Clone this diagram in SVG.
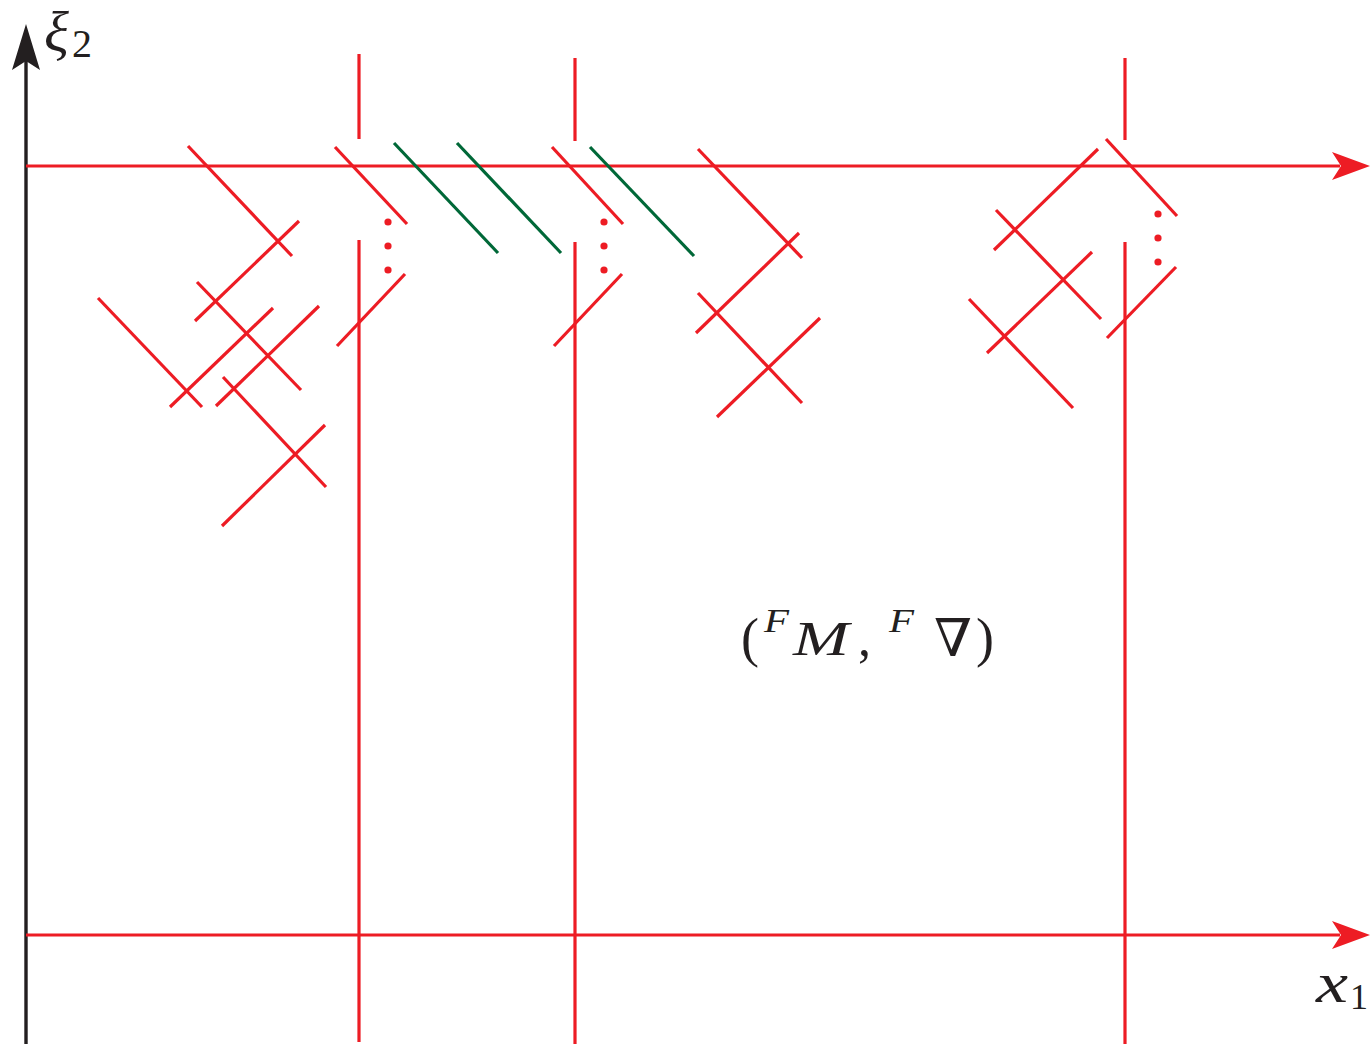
<svg xmlns="http://www.w3.org/2000/svg" width="1370" height="1044" viewBox="0 0 1370 1044">
<style>
.r{stroke:#ED1C24;stroke-width:3.2;fill:none}
.g{stroke:#006838;stroke-width:3.2;fill:none}
.k{stroke:#231F20;stroke-width:3.4;fill:none}
.d{fill:#ED1C24}
</style>
<defs>
<marker id="ar" viewBox="-12 -16 46 32" refX="0" refY="0" markerWidth="46" markerHeight="32" markerUnits="userSpaceOnUse" orient="auto">
<path d="M30,0 L-8,-14 L1,0 L-8,14 Z" fill="#ED1C24"/>
</marker>
<marker id="ak" viewBox="-12 -16 52 32" refX="0" refY="0" markerWidth="52" markerHeight="32" markerUnits="userSpaceOnUse" orient="auto">
<path d="M37,0 L-9,-14 L0,0 L-9,14 Z" fill="#231F20"/>
</marker>
</defs>
<g id="axes">
<line class="k" x1="26" y1="1044" x2="26" y2="61" marker-end="url(#ak)"/>
<line class="r" x1="26" y1="166" x2="1340" y2="166" marker-end="url(#ar)"/>
<line class="r" x1="26" y1="935" x2="1340" y2="935" marker-end="url(#ar)"/>
</g>
<g id="verticals">
<line class="r" x1="359" y1="54" x2="359" y2="139"/>
<line class="r" x1="359" y1="240" x2="359" y2="1042"/>
<line class="r" x1="575" y1="58" x2="575" y2="141"/>
<line class="r" x1="575" y1="242" x2="575" y2="1044"/>
<line class="r" x1="1125" y1="58" x2="1125" y2="140"/>
<line class="r" x1="1125" y1="242" x2="1125" y2="1044"/>
</g>
<g id="left-cluster">
<line class="r" x1="188" y1="146" x2="292" y2="256"/>
<line class="r" x1="299" y1="221" x2="195" y2="321"/>
<line class="r" x1="197" y1="282" x2="301" y2="390"/>
<line class="r" x1="98" y1="298" x2="202" y2="407"/>
<line class="r" x1="273" y1="308" x2="170" y2="407"/>
<line class="r" x1="319" y1="306" x2="216" y2="406"/>
<line class="r" x1="223" y1="377" x2="326" y2="487"/>
<line class="r" x1="325" y1="425" x2="222" y2="526"/>
</g>
<g id="cut-359">
<line class="r" x1="335" y1="147" x2="407" y2="224"/>
<line class="r" x1="337" y1="346" x2="405" y2="274"/>
<circle class="d" cx="388" cy="222" r="3.6"/>
<circle class="d" cx="388" cy="246" r="3.6"/>
<circle class="d" cx="388" cy="270" r="3.6"/>
</g>
<g id="green-lines">
<line class="g" x1="394" y1="143" x2="498" y2="253"/>
<line class="g" x1="457" y1="143" x2="561" y2="253"/>
<line class="g" x1="590" y1="147" x2="694" y2="256"/>
</g>
<g id="cut-575">
<line class="r" x1="552" y1="147" x2="623" y2="224"/>
<line class="r" x1="554" y1="346" x2="622" y2="274"/>
<circle class="d" cx="604" cy="222" r="3.6"/>
<circle class="d" cx="604" cy="246" r="3.6"/>
<circle class="d" cx="604" cy="270" r="3.6"/>
</g>
<g id="middle-cluster">
<line class="r" x1="698" y1="149" x2="802" y2="258"/>
<line class="r" x1="799" y1="233" x2="696" y2="333"/>
<line class="r" x1="698" y1="293" x2="802" y2="403"/>
<line class="r" x1="820" y1="318" x2="717" y2="417"/>
</g>
<g id="right-cluster">
<line class="r" x1="1098" y1="149" x2="994" y2="250"/>
<line class="r" x1="996" y1="210" x2="1101" y2="319"/>
<line class="r" x1="1092" y1="252" x2="987" y2="353"/>
<line class="r" x1="969" y1="299" x2="1073" y2="408"/>
</g>
<g id="cut-1125">
<line class="r" x1="1106" y1="139" x2="1177" y2="216"/>
<line class="r" x1="1107" y1="338" x2="1176" y2="267"/>
<circle class="d" cx="1158" cy="214" r="3.6"/>
<circle class="d" cx="1158" cy="238" r="3.6"/>
<circle class="d" cx="1158" cy="262" r="3.6"/>
</g>
<g id="labels" fill="#231F20" font-family="'Liberation Serif', 'DejaVu Serif', serif">
<text x="44" y="51" font-size="58" font-style="italic">ξ</text>
<text x="72" y="57" font-size="40">2</text>
<text x="1316" y="1002" font-size="56" font-style="italic" textLength="32" lengthAdjust="spacingAndGlyphs">x</text>
<text x="1350" y="1009" font-size="36">1</text>
<g id="pair-label">
<text x="741" y="656" font-size="54">(</text>
<text x="764" y="632" font-size="34" font-style="italic" textLength="25" lengthAdjust="spacingAndGlyphs">F</text>
<text x="793" y="655" font-size="48" font-style="italic" textLength="56" lengthAdjust="spacingAndGlyphs">M</text>
<text x="858" y="655" font-size="52">,</text>
<text x="889" y="632" font-size="34" font-style="italic" textLength="25" lengthAdjust="spacingAndGlyphs">F</text>
<text x="934" y="656" font-size="52" textLength="38" lengthAdjust="spacingAndGlyphs">∇</text>
<text x="976" y="656" font-size="54">)</text>
</g>
</g>
</svg>
